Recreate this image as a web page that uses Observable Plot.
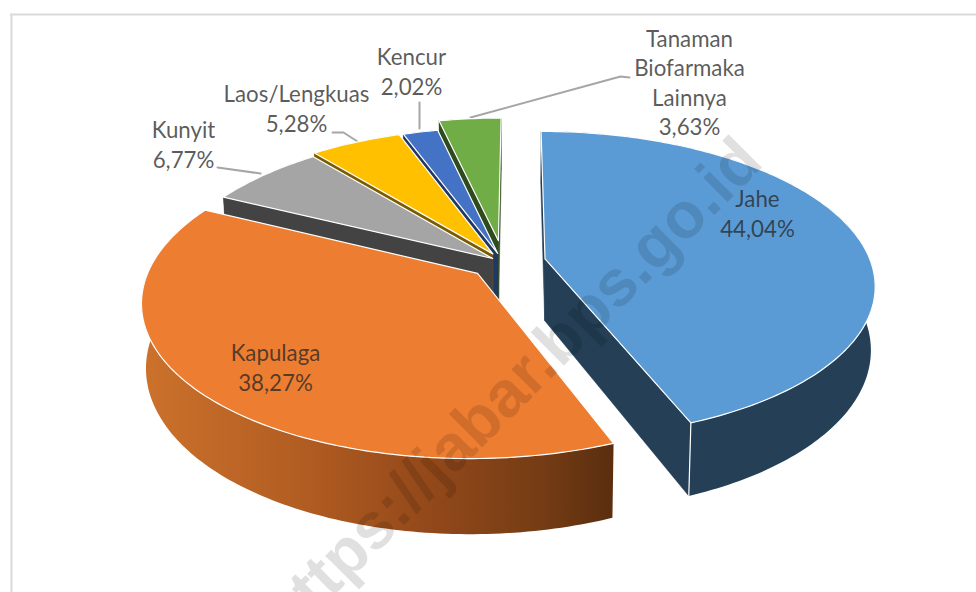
<!DOCTYPE html>
<html>
<head>
<meta charset="utf-8">
<script src="https://cdn.jsdelivr.net/npm/d3@7"></script>
<script src="https://cdn.jsdelivr.net/npm/@observablehq/plot@0.6"></script>
<style>html,body{margin:0;padding:0;background:#fff}svg{display:block}</style>
</head>
<body>
<div id="chart"></div>
<script>
// Data, in pie order (clockwise from 12 o'clock)
const names  = ["Jahe", "Kapulaga", "Kunyit", "Laos/Lengkuas", "Kencur", "Tanaman\nBiofarmaka\nLainnya"];
const values = [44.04, 38.27, 6.77, 5.28, 2.02, 3.63];
const valueLabels = ["44,04%", "38,27%", "6,77%", "5,28%", "2,02%", "3,63%"];

// Slice styling
const explode    = [0.13, 0.106, 0.043, 0.067, 0.064, 0.15];
const topColors  = ["#5B9BD5", "#ED7D31", "#A5A5A5", "#FFC000", "#4472C4", "#70AD47"];
const rimColors  = ["#243F56", "url(#kapulagaSide)", "#434343", "#7A5C00", "#203864", "#2F4A1D"];
const wallColors = ["#243F56", "#5B2E0F", "#434343", "#7A5C00", "#203864", "#2F4A1D"];
const paintOrder = [5, 4, 3, 2, 1, 0];
const gradientStops = [[0, "#CB712C"], [0.33, "#B25D22"], [0.6, "#94491A"], [0.85, "#743C14"], [1, "#5B2E0F"]];

// Label layout
const labelX = [757, 275, 183, 296, 411, 689];
const labelY = [212, 366, 143, 107, 70, 81];
const leaders = [
  [[217,167],[260,173]],
  [[332,132],[343,132],[357,141]],
  [[419,102],[419,128]],
  [[629,77],[620,76],[470,117]]
];

// Perspective of the 3D disc
const view = {xv:517, xc:503, yc:262, A:326, B:150, k:0.168, H:62, s:0.988};
function project(X, Y, lower) {
  const den = 1 + view.k * Y;
  let x = view.xv + (view.xc - view.xv + view.A * X) / den;
  let y = view.yc - view.B * Y / den;
  if (lower) { x = view.xv + (x - view.xv) * view.s; y += view.H / den; }
  return {x, y};
}
const rad = d => d * Math.PI / 180;
const signedArea = pts => d3.sum(pts, (p, i) => {
  const q = pts[(i + 1) % pts.length];
  return p.x * q.y - q.x * p.y;
}) / 2;

const total = d3.sum(values);
const cuts = d3.cumsum(values).map(v => v / total * 360);
const polys = [];
let pid = 0;
function poly(points, fill, stroke, sw) {
  const id = pid++;
  points.concat([points[0]]).forEach(p => polys.push({id, x:p.x, y:p.y, fill, stroke, sw}));
}
paintOrder.forEach(i => {
  const a0 = i === 0 ? 0 : cuts[i - 1], a1 = cuts[i];
  const mid = rad((a0 + a1) / 2);
  const ox = explode[i] * Math.sin(mid), oy = explode[i] * Math.cos(mid);
  const at = (deg, r, lower) => project(ox + r * Math.sin(rad(deg)), oy + r * Math.cos(rad(deg)), lower);
  const n = Math.max(2, Math.ceil(a1 - a0));
  const arc = d3.range(n + 1).map(j => a0 + (a1 - a0) * j / n);
  // cut faces that look towards the viewer
  [[a0, -1], [a1, 1]].forEach(([d, sign]) => {
    const wall = [at(d,0,false), at(d,1,false), at(d,1,true), at(d,0,true)];
    if (signedArea(wall) * sign > 0) poly(wall, wallColors[i], wallColors[i], 0.5);
  });
  // outer rim
  poly(arc.map(d => at(d,1,false)).concat(arc.slice().reverse().map(d => at(d,1,true))), rimColors[i], "none", 0);
  // white edge where the rim meets the visible cut face of Jahe
  if (i === 0) poly([at(a1, 1, false), at(a1, 1, true)], "none", "#FFFFFF", 1.2);
  // top face
  poly([at(a0,0,false)].concat(arc.map(d => at(d,1,false))), topColors[i], "#FFFFFF", 1.2);
});

const labels = names.map((n, i) => ({text: n + "\n" + valueLabels[i], x: labelX[i], y: labelY[i]}));
const leaderRows = leaders.flatMap((pts, id) => pts.map(([x, y]) => ({id, x, y})));

const sideGradient = () => {
  const ns = "http://www.w3.org/2000/svg";
  const defs = document.createElementNS(ns, "defs");
  const g = document.createElementNS(ns, "linearGradient");
  g.setAttribute("id", "kapulagaSide");
  g.setAttribute("gradientUnits", "userSpaceOnUse");
  g.setAttribute("x1", 145); g.setAttribute("x2", 612);
  g.setAttribute("y1", 0); g.setAttribute("y2", 0);
  gradientStops.forEach(([o, c]) => {
    const s = document.createElementNS(ns, "stop");
    s.setAttribute("offset", o); s.setAttribute("stop-color", c);
    g.appendChild(s);
  });
  defs.appendChild(g);
  return defs;
};

const plot = Plot.plot({
  width: 976, height: 592,
  margin: 0,
  x: {domain: [0, 976], range: [0, 976], axis: null},
  y: {domain: [0, 592], range: [0, 592], axis: null},
  color: {type: "identity"},
  style: {background: "#fff"},
  marks: [
    sideGradient,
    Plot.ruleY([14], {x1: 10, x2: 976, stroke: "#D9D9D9", strokeWidth: 2}),
    Plot.ruleX([11], {y1: 14, y2: 592, stroke: "#D9D9D9", strokeWidth: 2}),
    Plot.line(leaderRows, {x: "x", y: "y", z: "id", stroke: "#A6A6A6", strokeWidth: 2}),
    Plot.line(polys, {x: "x", y: "y", z: "id", fill: "fill", stroke: "stroke", strokeWidth: "sw", strokeLinejoin: "round"}),
    Plot.text(["https://jabar.bps.go.id"], {
      x: () => 511, y: () => 388, text: d => d, rotate: -45,
      fontFamily: "Liberation Sans", fontWeight: "bold", fontSize: 65,
      fill: "#000", fillOpacity: 0.12
    }),
    Plot.text(labels, {
      x: "x", y: "y", text: "text", textAnchor: "middle", lineHeight: 1.325,
      fontFamily: "Lato", fontSize: 22.3, fill: "#262626", fillOpacity: 0.75
    })
  ]
});
document.getElementById("chart").appendChild(plot);
</script>
</body>
</html>
